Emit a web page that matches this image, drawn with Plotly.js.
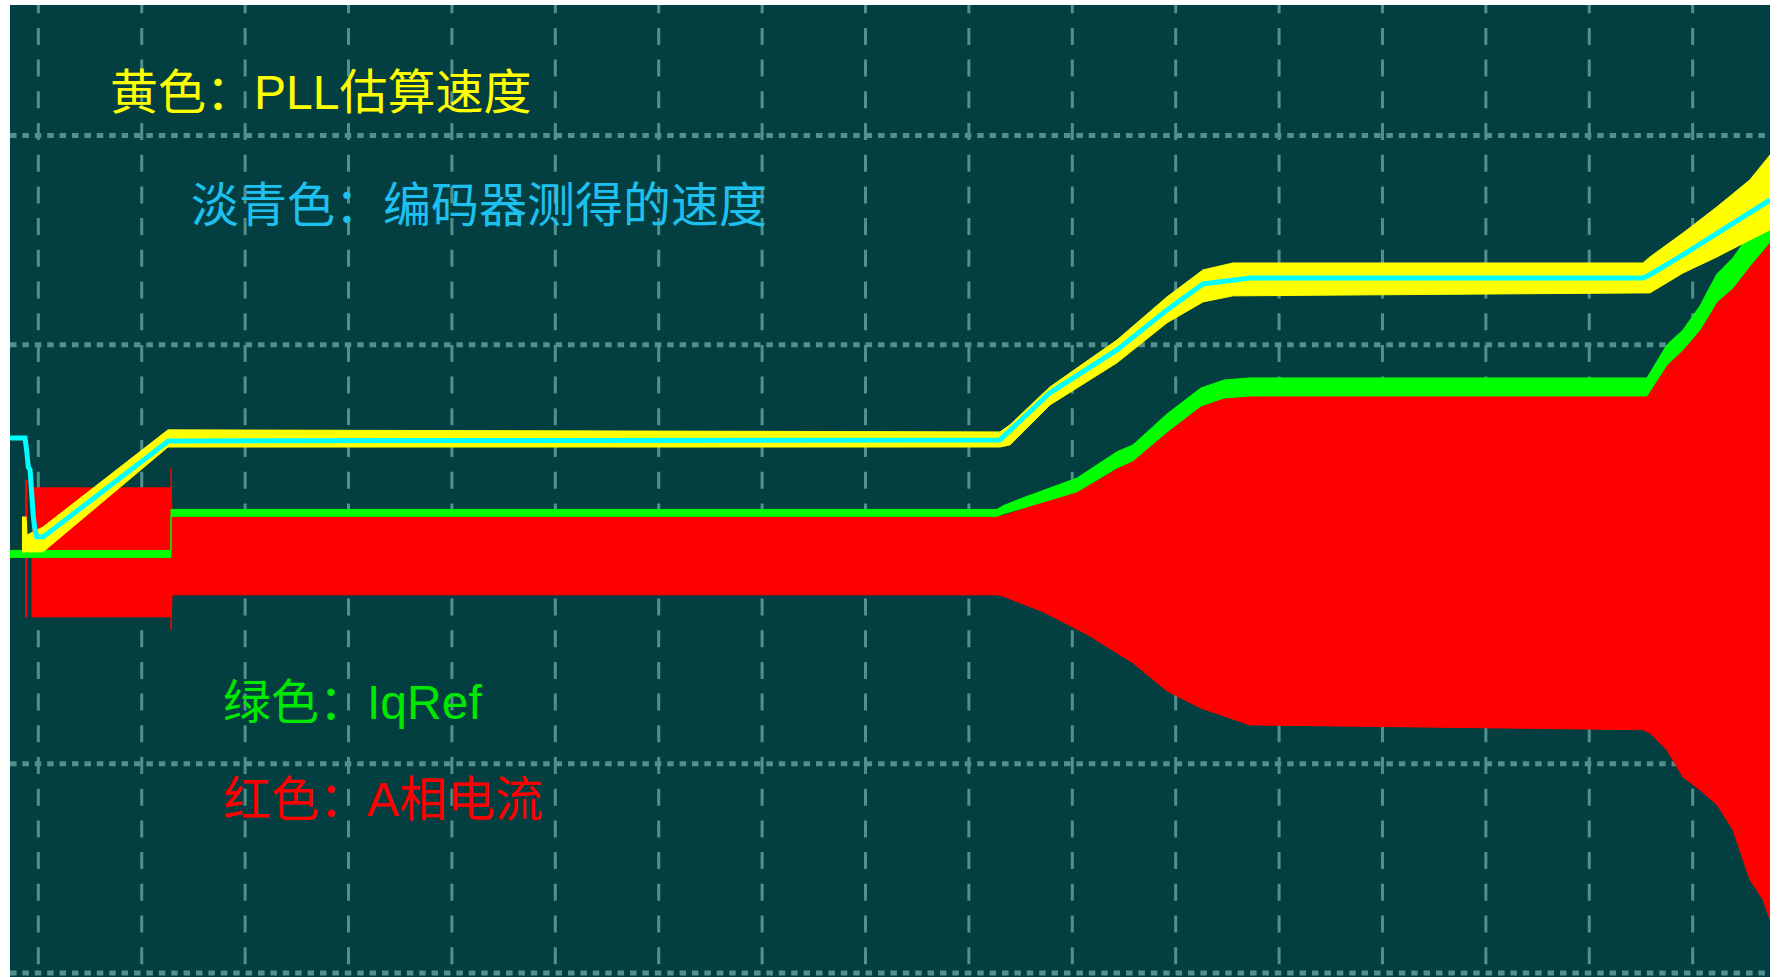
<!DOCTYPE html>
<html>
<head>
<meta charset="utf-8">
<script src="https://cdn.plot.ly/plotly-3.0.1.min.js"></script>
<style>
html,body{margin:0;padding:0;background:#ffffff;overflow:hidden}
#chart{width:1777px;height:977px}
</style>
</head>
<body>
<div id="chart"></div>
<script>
// x: time in horizontal scope divisions, y: amplitude in vertical scope divisions
const gridX = [0,1,2,3,4,5,6,7,8,9,10,11,12,13,14,15,16];
const gridY = [-2,-1,0,1,2];

// Red: A-phase current envelope (filled band)
const redX      = [-0.129,-0.109,-0.109,-0.061,-0.061,1.283,1.283,1.293,9.272,9.330,9.717,10.152,10.587,10.916,11.244,11.467,11.719,15.519,15.587,15.751,15.906,16.070,16.235,16.389,16.554,16.680,16.748];
const redTop    = [0.355,0.355,0.0,0.0,0.317,0.317,0.412,0.183,0.183,0.183,0.249,0.326,0.450,0.594,0.728,0.761,0.761,0.761,0.775,0.914,0.985,1.096,1.224,1.311,1.415,1.477,1.501];
const redBottom = [-0.299,-0.299,0.0,0.0,-0.299,-0.299,-0.362,-0.194,-0.194,-0.200,-0.275,-0.385,-0.519,-0.653,-0.735,-0.773,-0.815,-0.838,-0.854,-0.935,-1.064,-1.125,-1.196,-1.316,-1.555,-1.650,-1.746];

// Green: IqRef band
const greenX      = [-0.274,1.283,1.283,9.272,9.330,9.494,10.046,10.432,10.587,10.916,11.244,11.467,11.719,15.558,15.751,15.906,16.070,16.235,16.389,16.554,16.748];
const greenTop    = [0.018,0.018,0.214,0.214,0.231,0.264,0.364,0.489,0.522,0.670,0.794,0.832,0.842,0.842,1.000,1.071,1.186,1.339,1.415,1.530,1.635];
const greenBottom = [-0.015,-0.015,0.181,0.181,0.192,0.216,0.298,0.412,0.446,0.584,0.708,0.746,0.756,0.756,0.904,0.976,1.071,1.205,1.272,1.377,1.491];

// Yellow: PLL estimated speed band
const yellowX      = [-0.158,-0.119,-0.109,0.045,1.254,9.301,9.397,9.784,10.432,10.916,11.264,11.554,15.519,15.587,15.906,16.235,16.554,16.748];
const yellowTop    = [0.178,0.178,0.092,0.130,0.594,0.584,0.618,0.799,1.023,1.229,1.358,1.391,1.391,1.420,1.534,1.659,1.788,1.907];
const yellowBottom = [0.011,0.011,0.011,0.011,0.512,0.512,0.522,0.713,0.914,1.105,1.205,1.234,1.248,1.248,1.343,1.420,1.501,1.549];

// Cyan: encoder measured speed
const cyanX = [-0.274,-0.129,-0.113,-0.097,-0.080,-0.064,-0.048,-0.032,-0.015,0.048,1.257,9.301,9.784,10.432,10.916,11.264,11.719,15.519,15.587,15.906,16.235,16.554,16.748];
const cyanY = [0.555,0.555,0.498,0.417,0.403,0.274,0.178,0.116,0.083,0.083,0.541,0.546,0.771,0.976,1.167,1.291,1.319,1.319,1.335,1.430,1.534,1.630,1.692];

const labels = ['黄色：PLL估算速度','淡青色：编码器测得的速度','绿色：IqRef','红色：A相电流'];

function band(x, lo, hi, color) {
  return [
    {type:'scatter', mode:'lines', x:x, y:lo, line:{width:1,color:color}, hoverinfo:'skip', showlegend:false},
    {type:'scatter', mode:'lines', x:x, y:hi, fill:'tonexty', fillcolor:color, line:{width:1,color:color}, hoverinfo:'skip', showlegend:false}
  ];
}

const traces = [].concat(
  band(redX, redBottom, redTop, '#ff0000'),
  band(greenX, greenBottom, greenTop, '#00ff00'),
  band(yellowX, yellowBottom, yellowTop, '#ffff00'),
  [{type:'scatter', mode:'lines', x:cyanX, y:cyanY, line:{width:5,color:'#00ffff'}, hoverinfo:'skip', showlegend:false}]
);

const gridColor = '#52908d';
const shapes = [];
gridX.forEach(v => shapes.push({type:'line', xref:'x', yref:'y', x0:v, x1:v, y0:2.665, y1:-2.3, layer:'below', line:{color:gridColor, width:3, dash:'17px,14.7px'}}));
gridY.forEach(v => shapes.push({type:'line', xref:'x', yref:'y', x0:-0.274, x1:17, y0:v, y1:v, layer:'below', line:{color:gridColor, width:5, dash:'6.5px,5.9px'}}));

const fam = 'Liberation Sans, "Noto Sans CJK SC", sans-serif';
const annotations = [
  {text:labels[0], x:0.0557, y:0.9095, color:'#ffff00'},
  {text:labels[1], x:0.1017, y:0.7942, color:'#1ec0f0'},
  {text:labels[2], x:0.1199, y:0.2829, color:'#00e800'},
  {text:labels[3], x:0.1199, y:0.1831, color:'#ff0000'}
].map(a => ({text:a.text, xref:'paper', yref:'paper', x:a.x, y:a.y, xanchor:'left', yanchor:'middle', showarrow:false, font:{family:fam, size:48, color:a.color}}));

const layout = {
  width:1777, height:977,
  margin:{l:10, r:7, t:5, b:0, pad:0},
  paper_bgcolor:'#ffffff',
  plot_bgcolor:'#033f40',
  showlegend:false,
  xaxis:{range:[-0.274,16.748], showgrid:false, zeroline:false, showticklabels:false, ticks:'', showline:false, fixedrange:true},
  yaxis:{range:[-2.019,2.623], showgrid:false, zeroline:false, showticklabels:false, ticks:'', showline:false, fixedrange:true},
  shapes:shapes,
  annotations:annotations
};

Plotly.newPlot('chart', traces, layout, {staticPlot:true, displayModeBar:false});
</script>
</body>
</html>
